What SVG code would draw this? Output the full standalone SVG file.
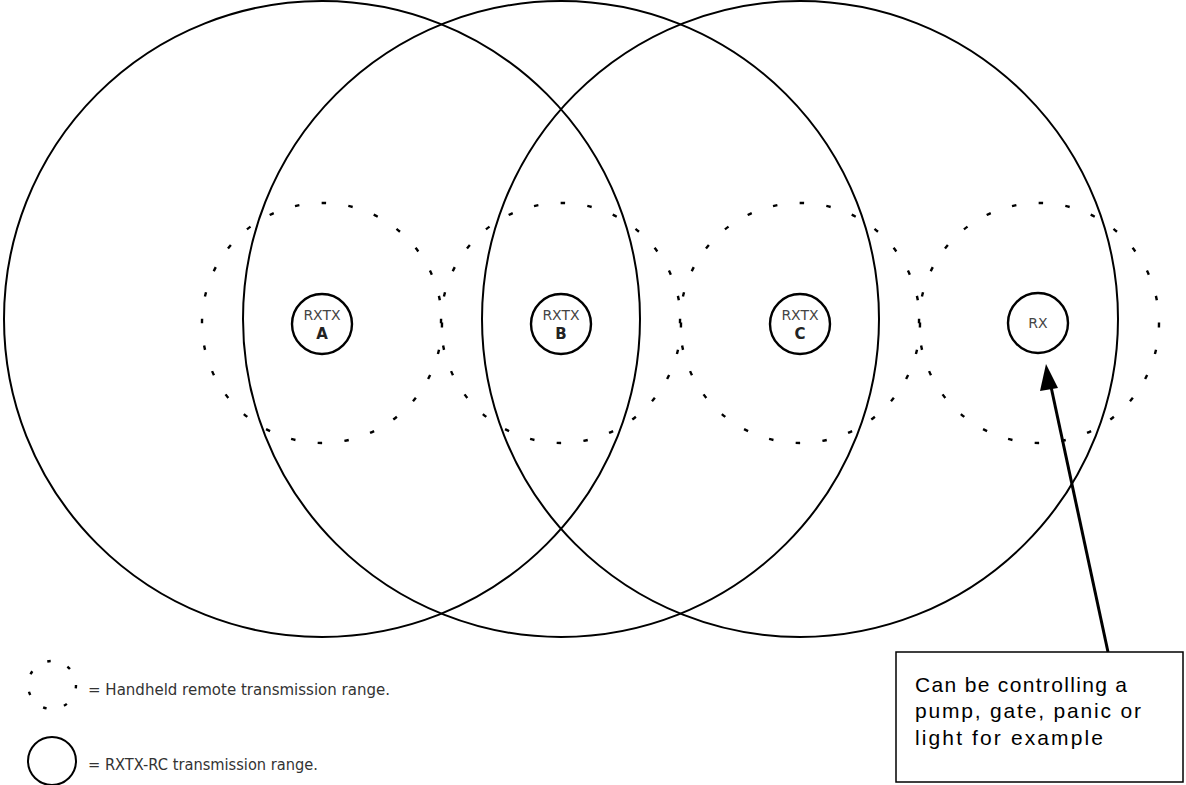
<svg xmlns="http://www.w3.org/2000/svg" width="1186" height="785" viewBox="0 0 1186 785">
<style>
.big{fill:none;stroke:#000;stroke-width:2}
.dash{fill:none;stroke:#000;stroke-width:2.4;stroke-dasharray:4.5 22.4}
.node{fill:#fff;stroke:#000;stroke-width:2.4}
.lbl{font-family:"DejaVu Sans","Liberation Sans",sans-serif;font-size:14px;fill:#444;text-anchor:middle}
.lblb{font-family:"DejaVu Sans","Liberation Sans",sans-serif;font-size:15px;font-weight:bold;fill:#222;text-anchor:middle}
.leg{font-family:"DejaVu Sans","Liberation Sans",sans-serif;font-size:15px;fill:#333}
.call{font-family:"Liberation Sans",Arial,sans-serif;font-size:21px;fill:#000}
</style>
<rect width="1186" height="785" fill="#fff"/>
<g id="ranges">
<circle class="big" cx="322" cy="319" r="318"/>
<circle class="big" cx="561" cy="319" r="318"/>
<circle class="big" cx="800" cy="319" r="318"/>
<circle class="dash" cx="322" cy="323" r="120"/>
<circle class="dash" cx="561" cy="323" r="120"/>
<circle class="dash" cx="800" cy="323" r="120"/>
<circle class="dash" cx="1039" cy="323" r="120"/>
</g>
<g id="node-a">
<circle class="node" cx="322" cy="324" r="30"/>
<text class="lbl" x="322" y="320">RXTX</text>
<text class="lblb" x="322" y="339">A</text>
</g>
<g id="node-b">
<circle class="node" cx="561" cy="324" r="30"/>
<text class="lbl" x="561" y="320">RXTX</text>
<text class="lblb" x="561" y="339">B</text>
</g>
<g id="node-c">
<circle class="node" cx="800" cy="324" r="30"/>
<text class="lbl" x="800" y="320">RXTX</text>
<text class="lblb" x="800" y="339">C</text>
</g>
<g id="node-rx">
<circle class="node" cx="1038" cy="323" r="30"/>
<text class="lbl" x="1038" y="328">RX</text>
</g>
<g id="connectors">
<line x1="1108" y1="652" x2="1050" y2="382" stroke="#000" stroke-width="3"/>
<path d="M1046,364 L1058,388 L1040,391 z" fill="#000"/>
</g>
<g id="callout">
<rect x="896" y="652" width="287" height="130" fill="#fff" stroke="#000" stroke-width="1.5"/>
<text class="call" x="915" y="692" textLength="212" lengthAdjust="spacing">Can be controlling a</text>
<text class="call" x="915" y="718" textLength="226" lengthAdjust="spacing">pump, gate, panic or</text>
<text class="call" x="915" y="745" textLength="188" lengthAdjust="spacing">light for example</text>
</g>
<g id="legend">
<circle cx="52" cy="685" r="24" fill="none" stroke="#000" stroke-width="2.4" stroke-dasharray="3.5 18"/>
<text class="leg" x="88" y="695" textLength="302" lengthAdjust="spacingAndGlyphs">= Handheld remote transmission range.</text>
<circle cx="52" cy="761" r="24" fill="none" stroke="#000" stroke-width="2"/>
<text class="leg" x="88" y="770" textLength="230" lengthAdjust="spacingAndGlyphs">= RXTX-RC transmission range.</text>
</g>
</svg>
